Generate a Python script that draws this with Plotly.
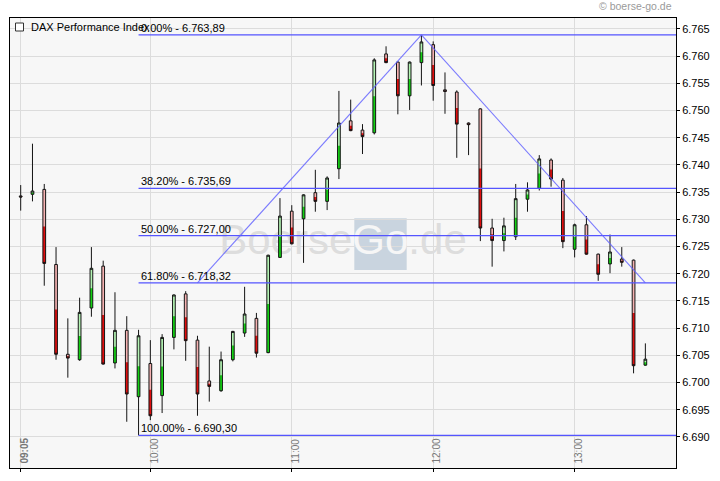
import plotly.graph_objects as go
import pandas as pd

# ---------------- data ----------------
start_time = "2013-06-04 09:05"
opens = [6734.3, 6734.6, 6735.5, 6721.7, 6705.2, 6704.2, 6713.7, 6721.4, 6703.6, 6709.6,
         6697.4, 6703.5, 6697.6, 6708.3, 6716.3, 6707.8, 6700.3, 6698.5, 6704.2, 6709.1,
         6711.8, 6705.5, 6723.0, 6731.5, 6730.1, 6734.9, 6733.3, 6739.3, 6748.1, 6746.4,
         6745.9, 6760.4, 6758.9, 6752.7, 6758.8, 6762.1, 6753.8, 6753.4, 6747.7, 6750.3,
         6728.4, 6726.1, 6726.8, 6733.7, 6735.7, 6740.9, 6737.2, 6724.5, 6729.0, 6723.6,
         6721.8, 6722.7, 6722.5, 6703.2]
highs = [6736.3, 6743.9, 6736.5, 6724.9, 6711.8, 6715.6, 6724.9, 6722.4, 6716.6, 6712.2,
         6709.7, 6707.8, 6708.9, 6716.2, 6716.8, 6708.6, 6706.6, 6705.7, 6709.5, 6717.6,
         6712.8, 6723.5, 6733.9, 6732.6, 6734.6, 6739.1, 6737.9, 6753.6, 6752.0, 6747.5,
         6759.6, 6761.8, 6759.0, 6759.0, 6763.89, 6762.7, 6757.0, 6753.7, 6747.8, 6750.4,
         6730.1, 6730.3, 6736.5, 6736.8, 6741.8, 6741.2, 6737.6, 6729.2, 6730.6, 6723.7,
         6727.2, 6724.9, 6722.6, 6707.2]
lows = [6731.6, 6733.3, 6717.8, 6704.2, 6700.9, 6704.0, 6712.1, 6703.3, 6702.6, 6692.8,
        6690.3, 6693.1, 6694.4, 6706.1, 6704.0, 6693.9, 6696.5, 6698.3, 6703.9, 6708.4,
        6704.6, 6705.4, 6722.9, 6725.4, 6722.0, 6731.4, 6731.7, 6737.4, 6746.2, 6742.0,
        6745.6, 6758.7, 6749.3, 6750.1, 6754.6, 6751.8, 6749.4, 6741.3, 6741.8, 6726.0,
        6721.3, 6724.1, 6726.2, 6731.4, 6735.3, 6736.0, 6724.7, 6723.0, 6723.5, 6718.7,
        6720.1, 6721.3, 6701.7, 6703.1]
closes = [6734.1, 6735.2, 6721.9, 6705.2, 6704.5, 6712.9, 6721.0, 6703.4, 6709.6, 6697.9,
          6708.6, 6693.9, 6708.3, 6716.1, 6707.7, 6697.9, 6699.3, 6704.2, 6709.4, 6712.6,
          6705.4, 6723.4, 6730.6, 6725.5, 6734.5, 6733.3, 6737.6, 6747.7, 6746.3, 6745.2,
          6759.3, 6758.8, 6752.7, 6758.9, 6762.6, 6754.6, 6753.5, 6747.5, 6747.4, 6728.4,
          6726.1, 6728.8, 6733.8, 6735.4, 6741.1, 6737.4, 6725.9, 6729.0, 6723.6, 6719.9,
          6724.0, 6722.1, 6703.1, 6704.3]

fib_pcts = [0.0, 38.2, 50.0, 61.8, 100.0]
fib_values = [6763.89, 6735.69, 6727.00, 6718.32, 6690.30]

# trend line anchors: bar indices and levels
trend_idx = [15, 34, 53]
trend_vals = [6718.32, 6763.89, 6718.32]

tick_times = ["09:05", "10:00", "11:00", "12:00", "13:00"]
y_ticks_start, y_ticks_step = 6685, 5

# ---------------- build ----------------
times = pd.date_range(start_time, periods=len(opens), freq="5min")
day = times[0].strftime("%Y-%m-%d")
x_range = [pd.Timestamp(day + " 09:00:28"), pd.Timestamp(day + " 13:43:00")]
y_range = [6684.3, 6767.0]

UP_L, UP_D = "#b4f4b4", "#14d214"
DN_L, DN_D = "#f6b2b2", "#e00e0e"

# lower half of each body (dark part of the two-tone fill)
half_o, half_c = [], []
for o, c in zip(opens, closes):
    lo, hi = min(o, c), max(o, c)
    mid = lo + (hi - lo) / 2
    if c >= o:
        half_o.append(lo); half_c.append(mid)      # increasing -> green
    else:
        half_o.append(mid); half_c.append(lo)      # decreasing -> red

fig = go.Figure()

# watermark on the base axes (drawn beneath the candle axes)
span = x_range[1] - x_range[0]
wm_x = x_range[0] + span * ((343 - 10) / 666)
wm_y = y_range[0] + (y_range[1] - y_range[0]) * ((468 - 243.5) / 450)
fig.add_trace(go.Scatter(
    x=[wm_x], y=[wm_y], mode="text", xaxis="x", yaxis="y",
    text=["Boerse<span style='color:#f6f6f6'>Go</span>.de"],
    textfont=dict(size=42, color="#dddddd", family="Liberation Sans, Arial"),
    textposition="middle center", hoverinfo="skip"))

# candles on overlaying axes
fig.add_trace(go.Candlestick(
    x=times, open=opens, high=highs, low=lows, close=closes, xaxis="x2", yaxis="y2",
    increasing=dict(fillcolor=UP_L, line=dict(width=0, color=UP_L)),
    decreasing=dict(fillcolor=DN_L, line=dict(width=0, color=DN_L)),
    whiskerwidth=0, hoverinfo="skip"))
fig.add_trace(go.Candlestick(
    x=times, open=half_o, high=[max(a, b) for a, b in zip(half_o, half_c)],
    low=[min(a, b) for a, b in zip(half_o, half_c)], close=half_c,
    xaxis="x2", yaxis="y2",
    increasing=dict(fillcolor=UP_D, line=dict(width=0, color=UP_D)),
    decreasing=dict(fillcolor=DN_D, line=dict(width=0, color=DN_D)),
    whiskerwidth=0, hoverinfo="skip"))
fig.add_trace(go.Candlestick(
    x=times, open=opens, high=highs, low=lows, close=closes, xaxis="x2", yaxis="y2",
    increasing=dict(fillcolor="rgba(0,0,0,0)", line=dict(width=1, color="#141414")),
    decreasing=dict(fillcolor="rgba(0,0,0,0)", line=dict(width=1, color="#141414")),
    whiskerwidth=0, hoverinfo="skip"))

# Fibonacci lines
low_idx = lows.index(min(lows))
anchor_t = times[low_idx]


def de_fmt(v):
    return f"{v:,.2f}".replace(",", "X").replace(".", ",").replace("X", ".")


for p, v in zip(fib_pcts, fib_values):
    fig.add_shape(type="line", xref="x", yref="y", x0=anchor_t, x1=x_range[1],
                  y0=v, y1=v, line=dict(color="#5555ff", width=1.1))
    fig.add_annotation(x=anchor_t, y=v, xref="x", yref="y", text=f"{p:.2f}% - {de_fmt(v)}",
                       showarrow=False, xanchor="left", yanchor="bottom", yshift=-1,
                       font=dict(size=11, color="black", family="Liberation Sans, Arial"))

# trend lines
for a, b in zip(range(len(trend_idx) - 1), range(1, len(trend_idx))):
    fig.add_shape(type="line", xref="x", yref="y",
                  x0=times[trend_idx[a]], y0=trend_vals[a],
                  x1=times[trend_idx[b]], y1=trend_vals[b],
                  line=dict(color="rgba(100,100,255,0.85)", width=1.1))

# watermark "Go" box
fig.add_shape(type="rect", xref="paper", yref="paper",
              x0=(354.3 - 10) / 666, x1=(406.7 - 10) / 666,
              y0=(468 - 270) / 450, y1=(468 - 218.3) / 450,
              fillcolor="#c9d4df", line=dict(width=0), layer="between")

# legend
fig.add_shape(type="rect", xref="paper", yref="paper",
              x0=5.5 / 666, x1=13.5 / 666, y0=(468 - 31) / 450, y1=(468 - 23) / 450,
              fillcolor="white", line=dict(color="#333333", width=1))
fig.add_annotation(x=19 / 666, y=(468 - 27) / 450, xref="paper", yref="paper",
                   text="DAX Performance Index", showarrow=False, xanchor="left",
                   yanchor="middle", font=dict(size=11, color="black"))
# copyright
fig.add_annotation(x=(674 - 10) / 666, y=(468 - 6) / 450, xref="paper", yref="paper",
                   text="© boerse-go.de", showarrow=False, xanchor="right",
                   yanchor="middle", font=dict(size=10.5, color="#9a9a9a"))

tickvals = [pd.Timestamp(day + " " + s) for s in tick_times]
ticktext = ["<b>" + tick_times[0] + "</b>"] + tick_times[1:]

fig.update_layout(
    width=720, height=481,
    margin=dict(l=10, r=44, t=18, b=13),
    paper_bgcolor="white", plot_bgcolor="#f7f7f7",
    showlegend=False, separators=",.",
    boxgap=0.77, boxgroupgap=0, boxmode="overlay",
    font=dict(family="Liberation Sans, Arial", size=11, color="black"),
    xaxis=dict(type="date", range=x_range, tickvals=tickvals, ticktext=ticktext,
               tickangle=-90, ticklabelposition="inside", ticks="outside", ticklen=3,
               tickcolor="black", showgrid=True, gridcolor="#dcdcdc", gridwidth=1,
               showline=True, linecolor="black", linewidth=1, mirror=True,
               zeroline=False, tickfont=dict(size=10, color="#777777"),
               ticklabelshift=4, rangeslider=dict(visible=False)),
    yaxis=dict(side="right", range=y_range, tick0=y_ticks_start, dtick=y_ticks_step,
               tickformat=",d", ticks="outside", ticklen=3, tickcolor="black",
               showgrid=True, gridcolor="#dcdcdc", gridwidth=1,
               showline=True, linecolor="black", linewidth=1, mirror=True,
               zeroline=False, tickfont=dict(size=11, color="black")),
    xaxis2=dict(type="date", range=x_range, overlaying="x", visible=False,
                showgrid=False, rangeslider=dict(visible=False)),
    yaxis2=dict(range=y_range, overlaying="y", visible=False, showgrid=False),
)

fig.write_html("out.html", config={"displayModeBar": False},
               post_script="document.body.style.margin='0';document.body.style.padding='0';")
